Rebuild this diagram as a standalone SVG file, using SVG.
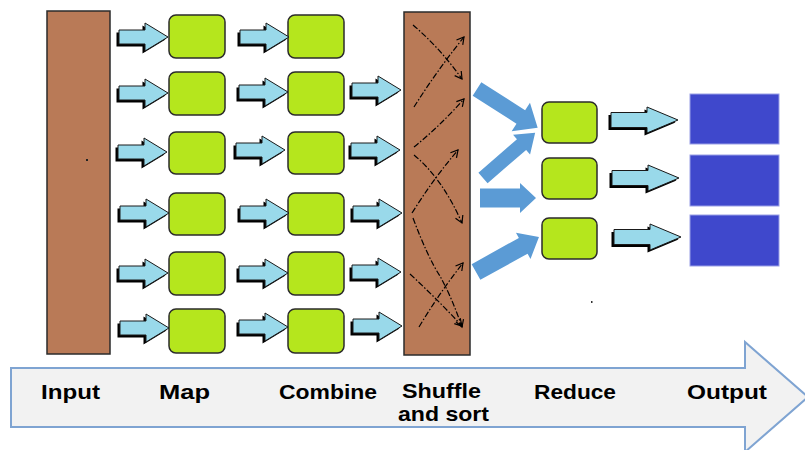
<svg xmlns="http://www.w3.org/2000/svg" width="805" height="450" viewBox="0 0 805 450">
  <style>
    .col { fill: #b97a57; stroke: #2b2b2b; stroke-width: 1.5; }
    .box { fill: #b5e61d; stroke: #2b2b2b; stroke-width: 1.5; }
    .out { fill: #3f48cc; stroke: #9a9fe6; stroke-width: 1; }
    .flow { fill: #99d9ea; stroke: #1a1a1a; stroke-width: 1; }
    .shadow { fill: #000; }
    .big { fill: #5b9bd5; }
    .mix { fill: none; stroke: #000; stroke-width: 1.2; stroke-dasharray: 6 2 1.5 2; marker-end: url(#open); }
    .stage { fill: #f2f2f2; stroke: #7fa4d2; stroke-width: 2; }
    .lbl { font-family: "Liberation Sans", Arial, sans-serif; font-weight: bold; font-size: 21px; fill: #000; }
  </style>
  <defs>
    <path id="a1" d="M0,-7 H26 V-14 L49,0 L26,14 V7 H0 Z"/>
    <path id="a2" d="M0,-7.5 H36 V-13 L67,0 L36,13 V7.5 H0 Z"/>
    <g id="fa">
      <use href="#a1" class="shadow" transform="translate(-2.5,2.5)"/>
      <use href="#a1" class="flow"/>
    </g>
    <g id="fb">
      <use href="#a2" class="shadow" transform="translate(-2.5,2.5)"/>
      <use href="#a2" class="flow"/>
    </g>
    <marker id="open" markerWidth="10" markerHeight="10" refX="8" refY="5" orient="auto" markerUnits="userSpaceOnUse">
      <polyline points="1,1 8,5 1,9" fill="none" stroke="#000" stroke-width="1.2"/>
    </marker>
  </defs>

  <!-- stage band along the bottom -->
  <g id="stages">
    <polygon class="stage" points="11,368 745,368 745,342 808,397 745,452 745,427 11,427"/>
    <text class="lbl" x="41" y="399" textLength="59" lengthAdjust="spacingAndGlyphs">Input</text>
    <text class="lbl" x="159" y="399" textLength="51" lengthAdjust="spacingAndGlyphs">Map</text>
    <text class="lbl" x="279" y="399" textLength="98" lengthAdjust="spacingAndGlyphs">Combine</text>
    <text class="lbl" x="402" y="398" textLength="79" lengthAdjust="spacingAndGlyphs">Shuffle</text>
    <text class="lbl" x="398" y="421" textLength="91" lengthAdjust="spacingAndGlyphs">and sort</text>
    <text class="lbl" x="534" y="399" textLength="82" lengthAdjust="spacingAndGlyphs">Reduce</text>
    <text class="lbl" x="687" y="399" textLength="80" lengthAdjust="spacingAndGlyphs">Output</text>
  </g>

  <g id="input"><rect class="col" x="47" y="11" width="63" height="343"/><rect x="86" y="159" width="2" height="2" fill="#222"/></g>

  <g id="map1"><rect class="box" x="169" y="15" width="56" height="43" rx="7"/></g>
  <g id="map2"><rect class="box" x="169" y="72" width="56" height="43" rx="7"/></g>
  <g id="map3"><rect class="box" x="169" y="132" width="56" height="42" rx="7"/></g>
  <g id="map4"><rect class="box" x="169" y="193" width="56" height="42" rx="7"/></g>
  <g id="map5"><rect class="box" x="169" y="252" width="56" height="43" rx="7"/></g>
  <g id="map6"><rect class="box" x="169" y="309" width="56" height="44" rx="7"/></g>

  <g id="combine1"><rect class="box" x="288" y="15" width="56" height="43" rx="7"/></g>
  <g id="combine2"><rect class="box" x="288" y="72" width="56" height="43" rx="7"/></g>
  <g id="combine3"><rect class="box" x="288" y="132" width="56" height="42" rx="7"/></g>
  <g id="combine4"><rect class="box" x="288" y="193" width="56" height="42" rx="7"/></g>
  <g id="combine5"><rect class="box" x="288" y="252" width="56" height="43" rx="7"/></g>
  <g id="combine6"><rect class="box" x="288" y="309" width="56" height="44" rx="7"/></g>

  <g id="shuffle">
    <rect class="col" x="404" y="12" width="66" height="343"/>
    <path class="mix" d="M413,25 Q440,48 462,79"/>
    <path class="mix" d="M414,107 Q436,72 464,37"/>
    <path class="mix" d="M414,147 Q440,126 464,99"/>
    <path class="mix" d="M414,155 Q442,178 462,223"/>
    <path class="mix" d="M412,213 Q434,178 458,150"/>
    <path class="mix" d="M413,218 Q428,258 440,276 Q452,298 462,327"/>
    <path class="mix" d="M410,274 Q438,300 462,326"/>
    <path class="mix" d="M419,327 Q440,292 463,263"/>
  </g>

  <g id="reduce1"><rect class="box" x="542" y="102" width="55" height="41" rx="7"/></g>
  <g id="reduce2"><rect class="box" x="542" y="158" width="55" height="41" rx="7"/></g>
  <g id="reduce3"><rect class="box" x="542" y="218" width="55" height="41" rx="7"/></g>

  <g id="output1"><rect class="out" x="690" y="94" width="89" height="50"/></g>
  <g id="output2"><rect class="out" x="690" y="155" width="89" height="51"/></g>
  <g id="output3"><rect class="out" x="690" y="215" width="89" height="51"/></g>
  <rect x="591" y="301" width="1.5" height="2" fill="#333"/>

  <g id="connectors">
    <!-- input to map -->
    <use href="#fa" x="119" y="37"/>
    <use href="#fa" x="119" y="93"/>
    <use href="#fa" x="118" y="152"/>
    <use href="#fa" x="120" y="213"/>
    <use href="#fa" x="119" y="273"/>
    <use href="#fa" x="120" y="328"/>
    <!-- map to combine -->
    <use href="#fa" x="240" y="37"/>
    <use href="#fa" x="239" y="92"/>
    <use href="#fa" x="236" y="150"/>
    <use href="#fa" x="240" y="213"/>
    <use href="#fa" x="239" y="273"/>
    <use href="#fa" x="239" y="327"/>
    <!-- combine to shuffle -->
    <use href="#fa" x="352" y="90"/>
    <use href="#fa" x="351" y="150"/>
    <use href="#fa" x="353" y="213"/>
    <use href="#fa" x="352" y="272"/>
    <use href="#fa" x="353" y="326"/>
    <!-- shuffle to reduce -->
    <path class="big" transform="translate(477,89) rotate(32.6)" d="M0,-8 H52 V-17 L72,0 L52,17 V8 H0 Z"/>
    <path class="big" transform="translate(483,178) rotate(-40.9)" d="M0,-7 H51 V-13 L69,0 L51,13 V7 H0 Z"/>
    <path class="big" d="M480,188.5 H520 V183 L536,198 L520,213 V207.5 H480 Z"/>
    <path class="big" transform="translate(476,272) rotate(-29)" d="M0,-9 H54 V-15 L72,0 L54,15 V9 H0 Z"/>
    <!-- reduce to output -->
    <use href="#fb" x="611" y="120"/>
    <use href="#fb" x="612" y="178"/>
    <use href="#fb" x="614" y="237"/>
  </g>
</svg>
